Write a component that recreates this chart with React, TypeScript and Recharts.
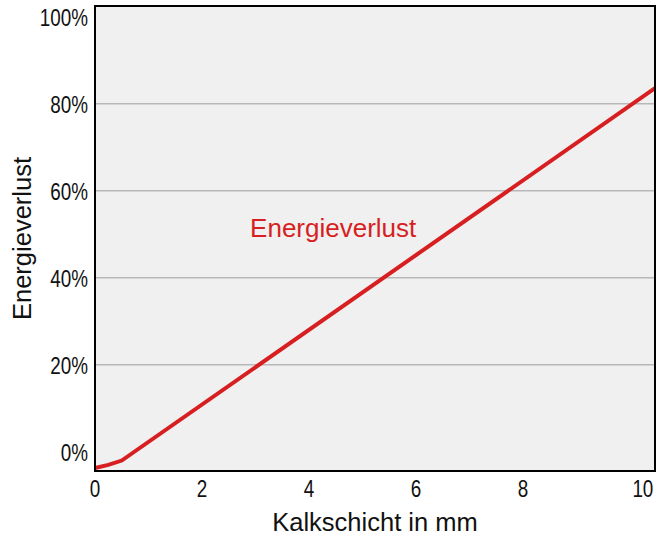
import React from "react";
import {
  LineChart,
  Line,
  XAxis,
  YAxis,
  CartesianGrid,
  ReferenceDot,
} from "recharts";

const thickness = [0, 0.25, 0.5, 10.47];
const loss = [-3.7, -3.0, -2.0, 83.6];
const xDomain = [0, 10.47];
const yDomain = [-4.4, 102.5];
const xTicks = [0, 2, 4, 6, 8, 10];
const yTicks = [0, 20, 40, 60, 80, 100];
const gridValues = [20, 40, 60, 80];
const seriesLabel = "Energieverlust";
const labelAt = { x: 2.9, y: 51.5 };

const data = thickness.map((t, i) => ({ t, loss: loss[i] }));

const sans = "'Liberation Sans', Arial, sans-serif";
const red = "#d71f22";

const W = 669;
const H = 535;
const margin = { top: 6, right: 14, bottom: 0, left: 0 };
const yAxisW = 95;
const xAxisH = 64;

// the original tick labels use a condensed face; squeeze the regular one
function NarrowText({ x, y, anchor, children }: any) {
  return (
    <text
      transform={`translate(${x},${y}) scale(0.82,1)`}
      textAnchor={anchor}
      fontSize={23}
      fontFamily={sans}
      fill="#111"
      dominantBaseline="central"
    >
      {children}
    </text>
  );
}

function XTick({ x, y, payload }: any) {
  // last label sits flush with the right frame in the original
  const dx = payload.value === xTicks[xTicks.length - 1] ? 13 : 0;
  return (
    <NarrowText x={x + dx} y={y + 10} anchor="middle">
      {payload.value}
    </NarrowText>
  );
}

function YTick({ x, y, payload }: any) {
  return (
    <NarrowText x={x - 1} y={y + 1} anchor="end">
      {payload.value}%
    </NarrowText>
  );
}

export default function App() {
  // black box around the plot area
  const box = {
    position: "absolute" as const,
    left: margin.left + yAxisW - 1,
    top: margin.top - 1,
    width: W - margin.left - margin.right - yAxisW + 2,
    height: H - margin.top - margin.bottom - xAxisH + 2,
    border: "2px solid #000",
    boxSizing: "border-box" as const,
    pointerEvents: "none" as const,
  };

  return (
    <div style={{ position: "absolute", left: 0, top: 0, width: W, height: H, background: "#fff" }}>
      <LineChart width={W} height={H} data={data} margin={margin}>
        <CartesianGrid
          vertical={false}
          horizontalValues={gridValues}
          fill="#f0f0f0"
          stroke="#b8b8b8"
          strokeWidth={1.5}
        />
        <XAxis
          dataKey="t"
          type="number"
          domain={xDomain}
          ticks={xTicks}
          tick={<XTick />}
          tickLine={false}
          axisLine={false}
          height={xAxisH}
          label={{ value: "Kalkschicht in mm", position: "insideBottom", offset: 4, fontSize: 25.5, fontFamily: sans, fill: "#111" }}
        />
        <YAxis
          type="number"
          domain={yDomain}
          ticks={yTicks}
          tick={<YTick />}
          tickLine={false}
          axisLine={false}
          width={yAxisW}
          tickMargin={0}
          label={{ value: "Energieverlust", angle: -90, position: "insideLeft", offset: 22, fontSize: 25.5, fontFamily: sans, fill: "#111", style: { textAnchor: "middle" } }}
        />
        <Line
          type="linear"
          dataKey="loss"
          stroke={red}
          strokeWidth={4}
          dot={false}
          isAnimationActive={false}
        />
        <ReferenceDot
          x={labelAt.x}
          y={labelAt.y}
          r={0}
          label={(props: any) => (
            <text x={props.viewBox.x} y={props.viewBox.y} fontSize={26} fontFamily={sans} fill={red} dominantBaseline="central">
              {seriesLabel}
            </text>
          )}
        />
      </LineChart>
      <div style={box} />
    </div>
  );
}
